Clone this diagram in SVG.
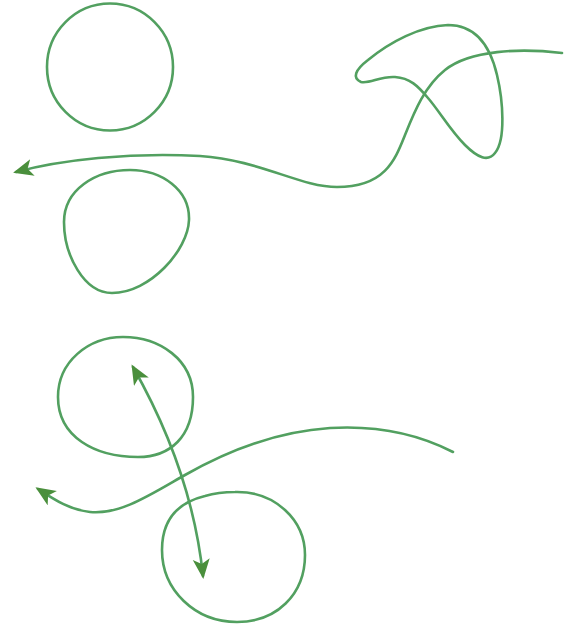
<svg xmlns="http://www.w3.org/2000/svg" width="564" height="634" viewBox="0 0 564 634">
  <style>
    .ln { fill: none; stroke: #52a060; stroke-width: 2.6; stroke-linecap: round; stroke-linejoin: round; }
  </style>
  <defs>
    <marker id="ah" markerUnits="userSpaceOnUse" markerWidth="22" markerHeight="20" refX="17" refY="8.5" orient="auto-start-reverse" viewBox="0 0 22 20">
      <path d="M0,0 L20,8.5 L0,17 L5,8.5 Z" fill="#4a8f3c"/>
    </marker>
  </defs>
  <rect width="564" height="634" fill="#ffffff"/>
  <g id="shape-circle-1">
    <ellipse class="ln" cx="110" cy="67" rx="63" ry="63.5"/>
  </g>
  <g id="shape-blob-2">
    <path class="ln" d="M130,170 C162,170 190,190 189,220 C188,250 150,293 112,293 C84,293 64,255 64,222 C64,190 95,170 130,170 Z"/>
  </g>
  <g id="shape-circle-3">
    <path class="ln" d="M123,337 C160,337 193,360 193,397 C193,437 170,457 138,457 C95,457 58,437 58,397 C58,362 88,337 123,337 Z"/>
  </g>
  <g id="shape-circle-4">
    <path class="ln" d="M235,492 C275,491 305,520 305,555 C305,595 276,622 237,622 C195,622 162,590 162,550 C162,522 176,503 205,496 C215,493 225,492 235,492 Z"/>
  </g>
  <g id="connectors">
    <path class="ln" d="M361,82 C352,78 355,70 368,60 C390,42 420,26 448,25 C475,25 490,45 497,75 C503,100 506,140 495,153 C488,162 478,158 465,145 C450,130 440,112 428,98 C418,86 410,78 395,77 C380,76 370,84 361,82 Z"/>
    <path class="ln" marker-end="url(#ah)" d="M562,53 C520,48 470,50 445,70 C425,86 415,110 405,135 C395,160 385,187 337,187 C300,187 260,160 200,156 C130,152 60,160 16,172"/>
    <path class="ln" marker-end="url(#ah)" d="M453,452 C420,435 380,425 330,428 C270,432 220,455 185,475 C150,495 120,515 90,512 C70,510 55,500 38,489"/>
    <path class="ln" marker-start="url(#ah)" marker-end="url(#ah)" d="M133,367 Q192,471 203,576"/>
  </g>
</svg>
